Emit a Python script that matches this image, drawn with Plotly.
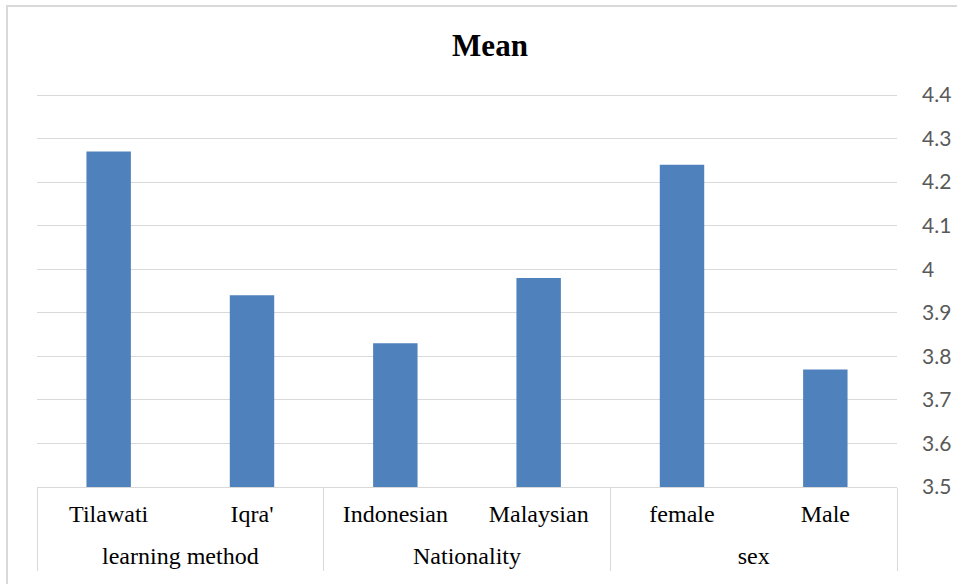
import plotly.graph_objects as go

groups = ["learning method", "Nationality", "sex"]
group_centers = [0.5, 2.5, 4.5]
group_bounds = [-0.5, 1.5, 3.5, 5.5]
categories = ["Tilawati", "Iqra'", "Indonesian", "Malaysian", "female", "Male"]
means = [4.27, 3.94, 3.83, 3.98, 4.24, 3.77]
y_ticks = [3.5, 3.6, 3.7, 3.8, 3.9, 4.0, 4.1, 4.2, 4.3, 4.4]
y_tick_text = ["3.5", "3.6", "3.7", "3.8", "3.9", "4", "4.1", "4.2", "4.3", "4.4"]

W, H = 957, 584
L, R, T, B = 37, 60, 93, 97
pw, ph = W - L - R, H - T - B
px_per_unit = 392 / 0.9
y_top = 3.5 + ph / px_per_unit

serif = "Liberation Serif"
line_grey = "#d9d9d9"

fig = go.Figure(
    go.Bar(
        x=categories,
        y=means,
        marker=dict(color="#4f81bd", line=dict(width=0)),
        width=0.31,
    )
)

x_range = [-0.5, 5.5]

fig.update_layout(
    width=W,
    height=H,
    margin=dict(l=L, r=R, t=T, b=B, autoexpand=False),
    paper_bgcolor="white",
    plot_bgcolor="white",
    showlegend=False,
    title=dict(
        text="<b>Mean</b>",
        x=(490 - L) / pw,
        xref="paper",
        xanchor="center",
        y=1 - 45 / H,
        yanchor="middle",
        font=dict(family=serif, size=31, color="black"),
    ),
    # category labels directly under the bars
    xaxis=dict(
        type="category",
        range=x_range,
        showline=True,
        linecolor=line_grey,
        linewidth=1,
        showgrid=False,
        ticks="",
        automargin=False,
        ticklabelstandoff=5,
        tickfont=dict(family=serif, size=24, color="black"),
    ),
    # group labels on a second row
    xaxis2=dict(
        type="linear",
        overlaying="x",
        anchor="y",
        side="bottom",
        range=x_range,
        tickvals=group_centers,
        ticktext=groups,
        showgrid=False,
        showline=False,
        zeroline=False,
        ticks="",
        automargin=False,
        ticklabelstandoff=52,
        tickfont=dict(family=serif, size=24, color="black"),
    ),
    # dividers between groups
    xaxis3=dict(
        type="linear",
        overlaying="x",
        anchor="y",
        side="bottom",
        range=x_range,
        tickvals=group_bounds,
        showticklabels=False,
        showgrid=False,
        showline=False,
        zeroline=False,
        ticks="outside",
        ticklen=83,
        tickwidth=1,
        tickcolor=line_grey,
        automargin=False,
    ),
    yaxis=dict(
        side="right",
        range=[3.5, y_top],
        tickvals=y_ticks,
        ticktext=y_tick_text,
        showgrid=True,
        gridcolor=line_grey,
        gridwidth=1,
        zeroline=False,
        showline=False,
        ticks="",
        automargin=False,
        ticklabelstandoff=24,
        tickfont=dict(family="Lato", size=21, color="#595959"),
    ),
    shapes=[
        dict(
            type="rect",
            xref="paper",
            yref="paper",
            x0=(7 - L) / pw,
            x1=(W + 10 - L) / pw,
            y0=-(H + 10 - T - ph) / ph,
            y1=1 + (T - 6) / ph,
            line=dict(color=line_grey, width=2),
            fillcolor="rgba(0,0,0,0)",
            layer="below",
        )
    ],
)

# empty traces so the overlay axes are drawn
fig.add_trace(go.Scatter(x=[None], y=[None], xaxis="x2", showlegend=False, hoverinfo="skip"))
fig.add_trace(go.Scatter(x=[None], y=[None], xaxis="x3", showlegend=False, hoverinfo="skip"))

fig.write_html("out.html")
